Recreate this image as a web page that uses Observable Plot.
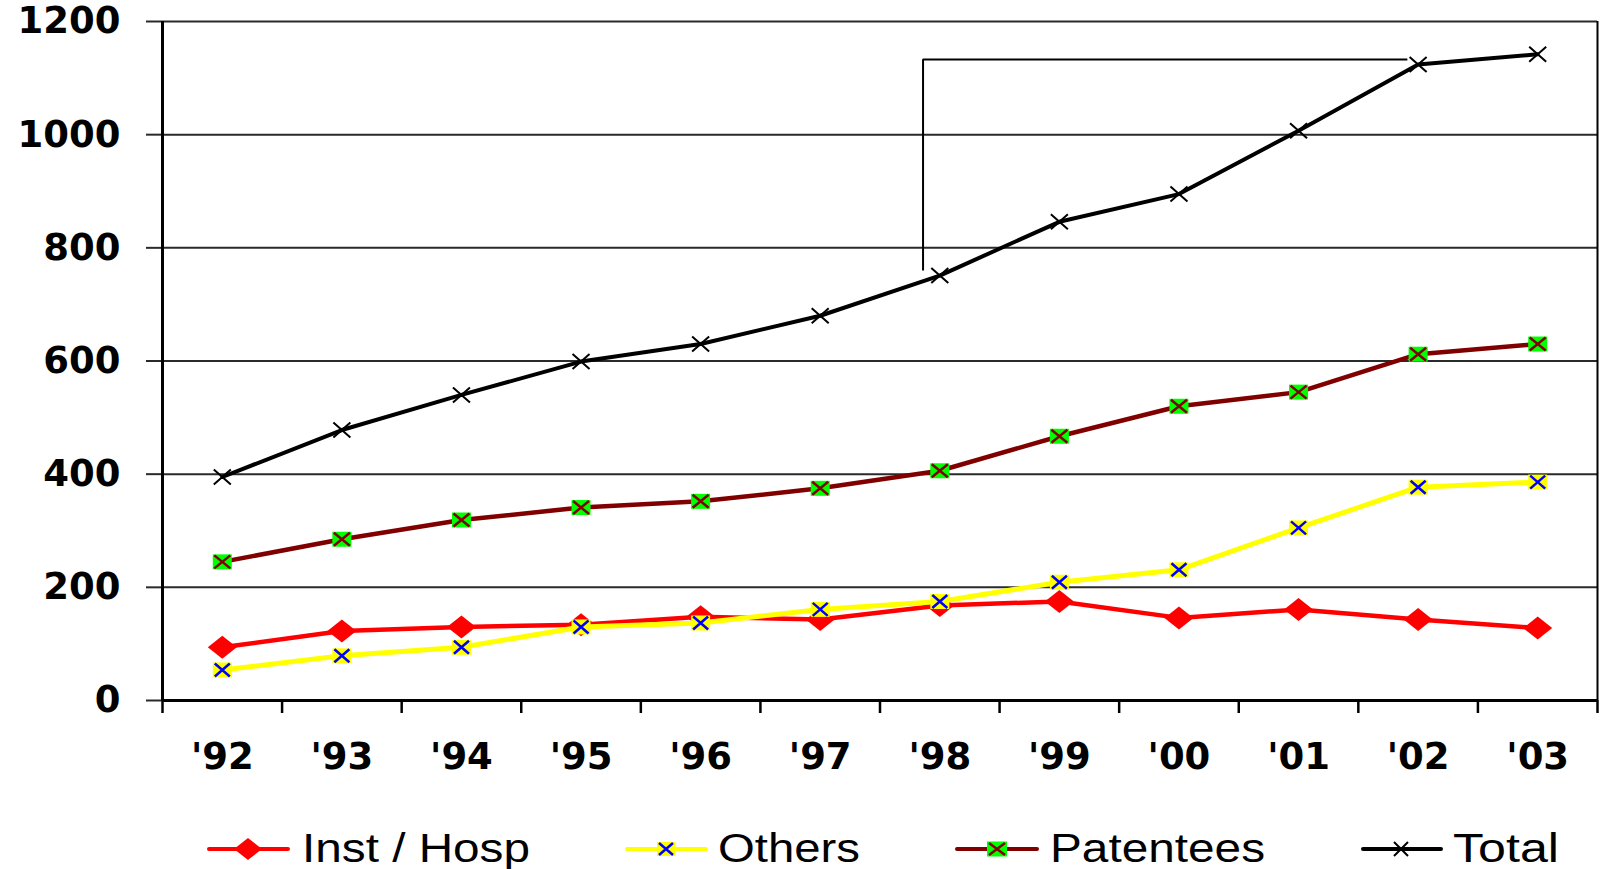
<!DOCTYPE html>
<html>
<head>
<meta charset="utf-8">
<script src="https://cdn.jsdelivr.net/npm/d3@7"></script>
<script src="https://cdn.jsdelivr.net/npm/@observablehq/plot@0.6"></script>
<style>
  html, body { margin: 0; padding: 0; background: #fff; }
  #chart svg { display: block; }
</style>
</head>
<body>
<div id="chart"></div>
<script>
// ---- data ----
const years = ["'92", "'93", "'94", "'95", "'96", "'97", "'98", "'99", "'00", "'01", "'02", "'03"];
const instHosp  = [94, 123, 130, 134, 148, 143, 168, 175, 146, 161, 143, 128];
const others    = [54, 79, 94, 130, 137, 161, 175, 209, 231, 305, 377, 386];
const patentees = [245, 285, 319, 341, 352, 375, 406, 467, 520, 545, 612, 630];
const total     = [395, 478, 540, 599, 630, 680, 751, 846, 895, 1007, 1124, 1142];
const yTicks = [0, 200, 400, 600, 800, 1000, 1200];
const seriesNames = ["Inst / Hosp", "Others", "Patentees", "Total"];
// annotation bracket (in data units: category index, value)
const bracket = [{x: 5.86, y: 760}, {x: 5.86, y: 1133}, {x: 9.91, y: 1133}];

// ---- custom symbols ----
const diamondSym = (w, h) => ({draw(ctx) { ctx.moveTo(0, -h/2); ctx.lineTo(w/2, 0); ctx.lineTo(0, h/2); ctx.lineTo(-w/2, 0); ctx.closePath(); }});
const rectSym = (w, h) => ({draw(ctx) { ctx.rect(-w/2, -h/2, w, h); }});
const xSym = (w, h) => ({draw(ctx) { ctx.moveTo(-w/2, -h/2); ctx.lineTo(w/2, h/2); ctx.moveTo(w/2, -h/2); ctx.lineTo(-w/2, h/2); }});

const rows = arr => arr.map((v, i) => ({i, v}));
const idx = d3.range(years.length);

const chart = Plot.plot({
  width: 1603,
  height: 790,
  marginTop: 21,
  marginBottom: 90,
  marginLeft: 162,
  marginRight: 6,
  style: {fontFamily: "'DejaVu Sans', sans-serif", fontWeight: "bold", color: "#000", background: "#fff"},
  x: {type: "linear", domain: [-0.5, years.length - 0.5]},
  y: {domain: [0, 1200]},
  marks: [
    Plot.ruleY(yTicks.filter(d => d > 0), {stroke: "#2a2a2a", strokeWidth: 2}),
    Plot.axisY(yTicks, {tickSize: 16, tickPadding: 26, tickFormat: d => String(d), fontSize: 37, fontWeight: "bold", stroke: "#2a2a2a", strokeWidth: 2, label: null}),
    Plot.axisX(d3.range(-0.5, years.length, 1), {tickSize: 13, tickFormat: () => "", stroke: "#000", strokeWidth: 2.5, label: null}),
    Plot.axisX(idx, {tickSize: 0, tickPadding: 42, tickFormat: i => years[i], fontSize: 37, fontWeight: "bold", label: null}),
    Plot.ruleX([years.length - 0.5], {stroke: "#000", strokeWidth: 2}),
    Plot.ruleX([-0.5], {stroke: "#000", strokeWidth: 3}),
    Plot.ruleY([0], {stroke: "#000", strokeWidth: 3}),
    Plot.line(bracket, {x: "x", y: "y", stroke: "#000", strokeWidth: 2, strokeLinejoin: "miter", strokeLinecap: "butt"}),
    // Inst / Hosp
    Plot.line(rows(instHosp), {x: "i", y: "v", stroke: "#ff0000", strokeWidth: 4.5}),
    Plot.dot(rows(instHosp), {x: "i", y: "v", symbol: diamondSym(29, 23), fill: "#ff0000", stroke: "none", r: 10}),
    // Others
    Plot.line(rows(others), {x: "i", y: "v", stroke: "#ffff00", strokeWidth: 5}),
    Plot.dot(rows(others), {x: "i", y: "v", symbol: rectSym(19, 15), fill: "#ffff00", stroke: "none", r: 10}),
    Plot.dot(rows(others), {x: "i", y: "v", symbol: xSym(15, 13), fill: "none", stroke: "#0000ff", strokeWidth: 2.5, r: 10}),
    // Patentees
    Plot.line(rows(patentees), {x: "i", y: "v", stroke: "#800000", strokeWidth: 4.5}),
    Plot.dot(rows(patentees), {x: "i", y: "v", symbol: rectSym(19, 15), fill: "#00ff00", stroke: "none", r: 10}),
    Plot.dot(rows(patentees), {x: "i", y: "v", symbol: xSym(16, 13), fill: "none", stroke: "#800000", strokeWidth: 2.5, r: 10}),
    // Total
    Plot.line(rows(total), {x: "i", y: "v", stroke: "#000", strokeWidth: 4}),
    Plot.dot(rows(total), {x: "i", y: "v", symbol: xSym(17, 15), fill: "none", stroke: "#000", strokeWidth: 2, r: 10})
  ]
});
document.getElementById("chart").appendChild(chart);

// ---- legend (below the plot SVG) ----
const legendItems = [
  {name: seriesNames[0], line: "#ff0000", x0: 209, x1: 288, mx: 248, tx: 302, tw: 228, marker: "diamond"},
  {name: seriesNames[1], line: "#ffff00", x0: 627, x1: 706, mx: 666, tx: 718, tw: 142, marker: "others"},
  {name: seriesNames[2], line: "#800000", x0: 957, x1: 1037, mx: 997, tx: 1050, tw: 215, marker: "patentees"},
  {name: seriesNames[3], line: "#000000", x0: 1363, x1: 1441, mx: 1401, tx: 1453, tw: 106, marker: "total"}
];
const legend = d3.create("svg").attr("width", 1603).attr("height", 79).style("display", "block");
const cy = 59;
for (const it of legendItems) {
  const g = legend.append("g");
  g.append("line").attr("x1", it.x0).attr("x2", it.x1).attr("y1", cy).attr("y2", cy)
    .attr("stroke", it.line).attr("stroke-width", 4).attr("stroke-linecap", "round");
  if (it.marker === "diamond") {
    g.append("path").attr("d", `M${it.mx},${cy-11}L${it.mx+14},${cy}L${it.mx},${cy+11}L${it.mx-14},${cy}Z`).attr("fill", "#ff0000");
  } else if (it.marker === "others") {
    g.append("rect").attr("x", it.mx - 9).attr("y", cy - 7).attr("width", 18).attr("height", 14).attr("fill", "#ffff00");
    g.append("path").attr("d", `M${it.mx-7},${cy-6}L${it.mx+7},${cy+6}M${it.mx+7},${cy-6}L${it.mx-7},${cy+6}`).attr("stroke", "#0000ff").attr("stroke-width", 2.5);
  } else if (it.marker === "patentees") {
    g.append("rect").attr("x", it.mx - 10).attr("y", cy - 7.5).attr("width", 20).attr("height", 15).attr("fill", "#00ff00");
    g.append("path").attr("d", `M${it.mx-8},${cy-6}L${it.mx+8},${cy+6}M${it.mx+8},${cy-6}L${it.mx-8},${cy+6}`).attr("stroke", "#800000").attr("stroke-width", 2.5);
  } else {
    g.append("path").attr("d", `M${it.mx-7},${cy-7}L${it.mx+7},${cy+7}M${it.mx+7},${cy-7}L${it.mx-7},${cy+7}`).attr("stroke", "#000").attr("stroke-width", 2);
  }
  g.append("text").attr("x", it.tx).attr("y", 72)
    .attr("font-family", "'Liberation Sans', Arial, sans-serif").attr("font-size", 40)
    .attr("textLength", it.tw).attr("lengthAdjust", "spacingAndGlyphs")
    .attr("fill", "#000").text(it.name);
}
document.getElementById("chart").appendChild(legend.node());
</script>
</body>
</html>
